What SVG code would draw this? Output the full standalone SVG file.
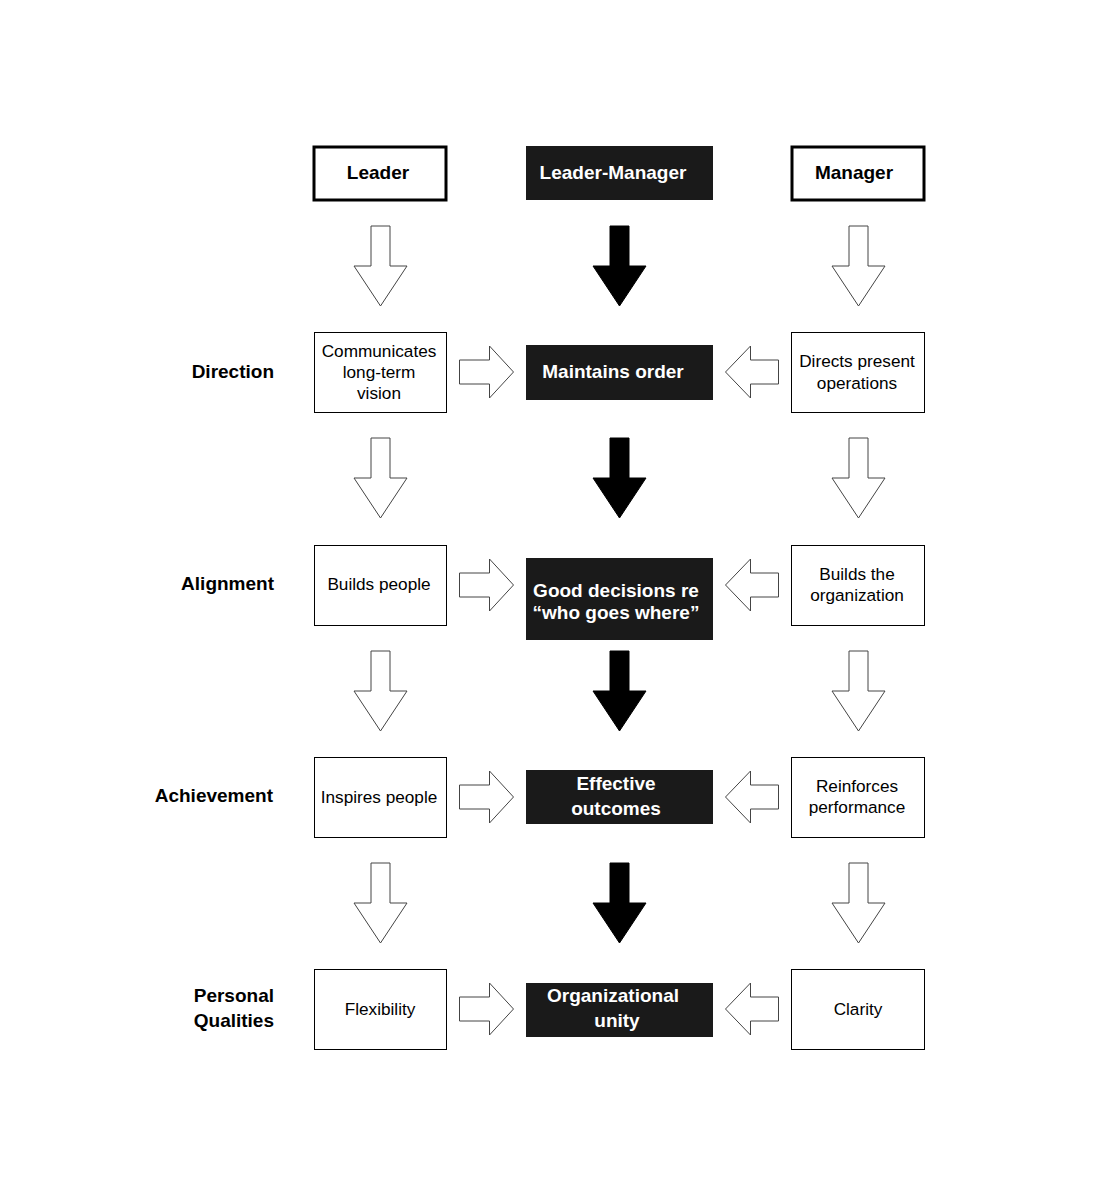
<svg xmlns="http://www.w3.org/2000/svg" width="1100" height="1200" viewBox="0 0 1100 1200">
<style>
.bg{fill:#fff}
.hbox{fill:#fff;stroke:#000;stroke-width:3}
.box{fill:#fff;stroke:#000;stroke-width:1}
.dark{fill:#1a1a1a;stroke:#1a1a1a;stroke-width:1}
.oarrow{fill:#fff;stroke:#444;stroke-width:1}
.barrow{fill:#000;stroke:#000;stroke-width:1}
text{font-family:"Liberation Sans",Arial,sans-serif;dominant-baseline:central}
.t{font-size:17.2px;fill:#000;text-anchor:middle}
.tb{font-size:19px;font-weight:bold;fill:#000;text-anchor:middle}
.tw{font-size:19px;font-weight:bold;fill:#fff;text-anchor:middle}
.lab{font-size:19px;font-weight:bold;fill:#000;text-anchor:end}
</style>
<defs>
<path id="down" d="M-9.5,0 H9.5 V40 H26.5 L0,80 L-26.5,40 H-9.5 Z"/>
<path id="right" d="M0,-12 H30 V-26 L54,0 L30,26 V12 H0 Z"/>
<path id="left" d="M0,0 L25,-26 V-12 H53 V12 H25 V26 Z"/>
</defs>
<rect class="bg" x="0" y="0" width="1100" height="1200"/>

<g id="connectors">
<use href="#down" class="oarrow" x="380.5" y="226"/>
<use href="#down" class="barrow" x="619.5" y="226"/>
<use href="#down" class="oarrow" x="858.5" y="226"/>
<use href="#down" class="oarrow" x="380.5" y="438"/>
<use href="#down" class="barrow" x="619.5" y="438"/>
<use href="#down" class="oarrow" x="858.5" y="438"/>
<use href="#down" class="oarrow" x="380.5" y="651"/>
<use href="#down" class="barrow" x="619.5" y="651"/>
<use href="#down" class="oarrow" x="858.5" y="651"/>
<use href="#down" class="oarrow" x="380.5" y="863"/>
<use href="#down" class="barrow" x="619.5" y="863"/>
<use href="#down" class="oarrow" x="858.5" y="863"/>
<use href="#right" class="oarrow" x="459.5" y="372"/>
<use href="#left" class="oarrow" x="725.5" y="372"/>
<use href="#right" class="oarrow" x="459.5" y="585"/>
<use href="#left" class="oarrow" x="725.5" y="585"/>
<use href="#right" class="oarrow" x="459.5" y="797"/>
<use href="#left" class="oarrow" x="725.5" y="797"/>
<use href="#right" class="oarrow" x="459.5" y="1009"/>
<use href="#left" class="oarrow" x="725.5" y="1009"/>
</g>

<g id="leader"><rect class="hbox" x="314" y="147" width="132" height="53"/><text class="tb" x="378" y="172">Leader</text></g>
<g id="leader-manager"><rect class="dark" x="526.5" y="146.5" width="186" height="53"/><text class="tw" x="613" y="172">Leader-Manager</text></g>
<g id="manager"><rect class="hbox" x="792" y="147" width="132" height="53"/><text class="tb" x="854" y="172">Manager</text></g>

<g id="label-direction"><text class="lab" x="274" y="371">Direction</text></g>
<g id="label-alignment"><text class="lab" x="274" y="583">Alignment</text></g>
<g id="label-achievement"><text class="lab" x="273" y="795">Achievement</text></g>
<g id="label-personal"><text class="lab" x="274" y="995">Personal</text><text class="lab" x="274" y="1020">Qualities</text></g>

<g id="communicates"><rect class="box" x="314.5" y="332.5" width="132" height="80"/><text class="t" x="379" y="351">Communicates</text><text class="t" x="379" y="372">long-term</text><text class="t" x="379" y="393">vision</text></g>
<g id="maintains"><rect class="dark" x="526.5" y="345.5" width="186" height="54"/><text class="tw" x="613" y="371">Maintains order</text></g>
<g id="directs"><rect class="box" x="791.5" y="332.5" width="133" height="80"/><text class="t" x="857" y="361">Directs present</text><text class="t" x="857" y="383">operations</text></g>

<g id="builds-people"><rect class="box" x="314.5" y="545.5" width="132" height="80"/><text class="t" x="379" y="584">Builds people</text></g>
<g id="good-decisions"><rect class="dark" x="526.5" y="558.5" width="186" height="81"/><text class="tw" x="616" y="590">Good decisions re</text><text class="tw" x="616" y="612">“who goes where”</text></g>
<g id="builds-org"><rect class="box" x="791.5" y="545.5" width="133" height="80"/><text class="t" x="857" y="574">Builds the</text><text class="t" x="857" y="595">organization</text></g>

<g id="inspires"><rect class="box" x="314.5" y="757.5" width="132" height="80"/><text class="t" x="379" y="797">Inspires people</text></g>
<g id="effective"><rect class="dark" x="526.5" y="770.5" width="186" height="53"/><text class="tw" x="616" y="783">Effective</text><text class="tw" x="616" y="808">outcomes</text></g>
<g id="reinforces"><rect class="box" x="791.5" y="757.5" width="133" height="80"/><text class="t" x="857" y="786">Reinforces</text><text class="t" x="857" y="807">performance</text></g>

<g id="flexibility"><rect class="box" x="314.5" y="969.5" width="132" height="80"/><text class="t" x="380" y="1009">Flexibility</text></g>
<g id="unity"><rect class="dark" x="526.5" y="983.5" width="186" height="53"/><text class="tw" x="613" y="995">Organizational</text><text class="tw" x="617" y="1020">unity</text></g>
<g id="clarity"><rect class="box" x="791.5" y="969.5" width="133" height="80"/><text class="t" x="858" y="1009">Clarity</text></g>
</svg>
